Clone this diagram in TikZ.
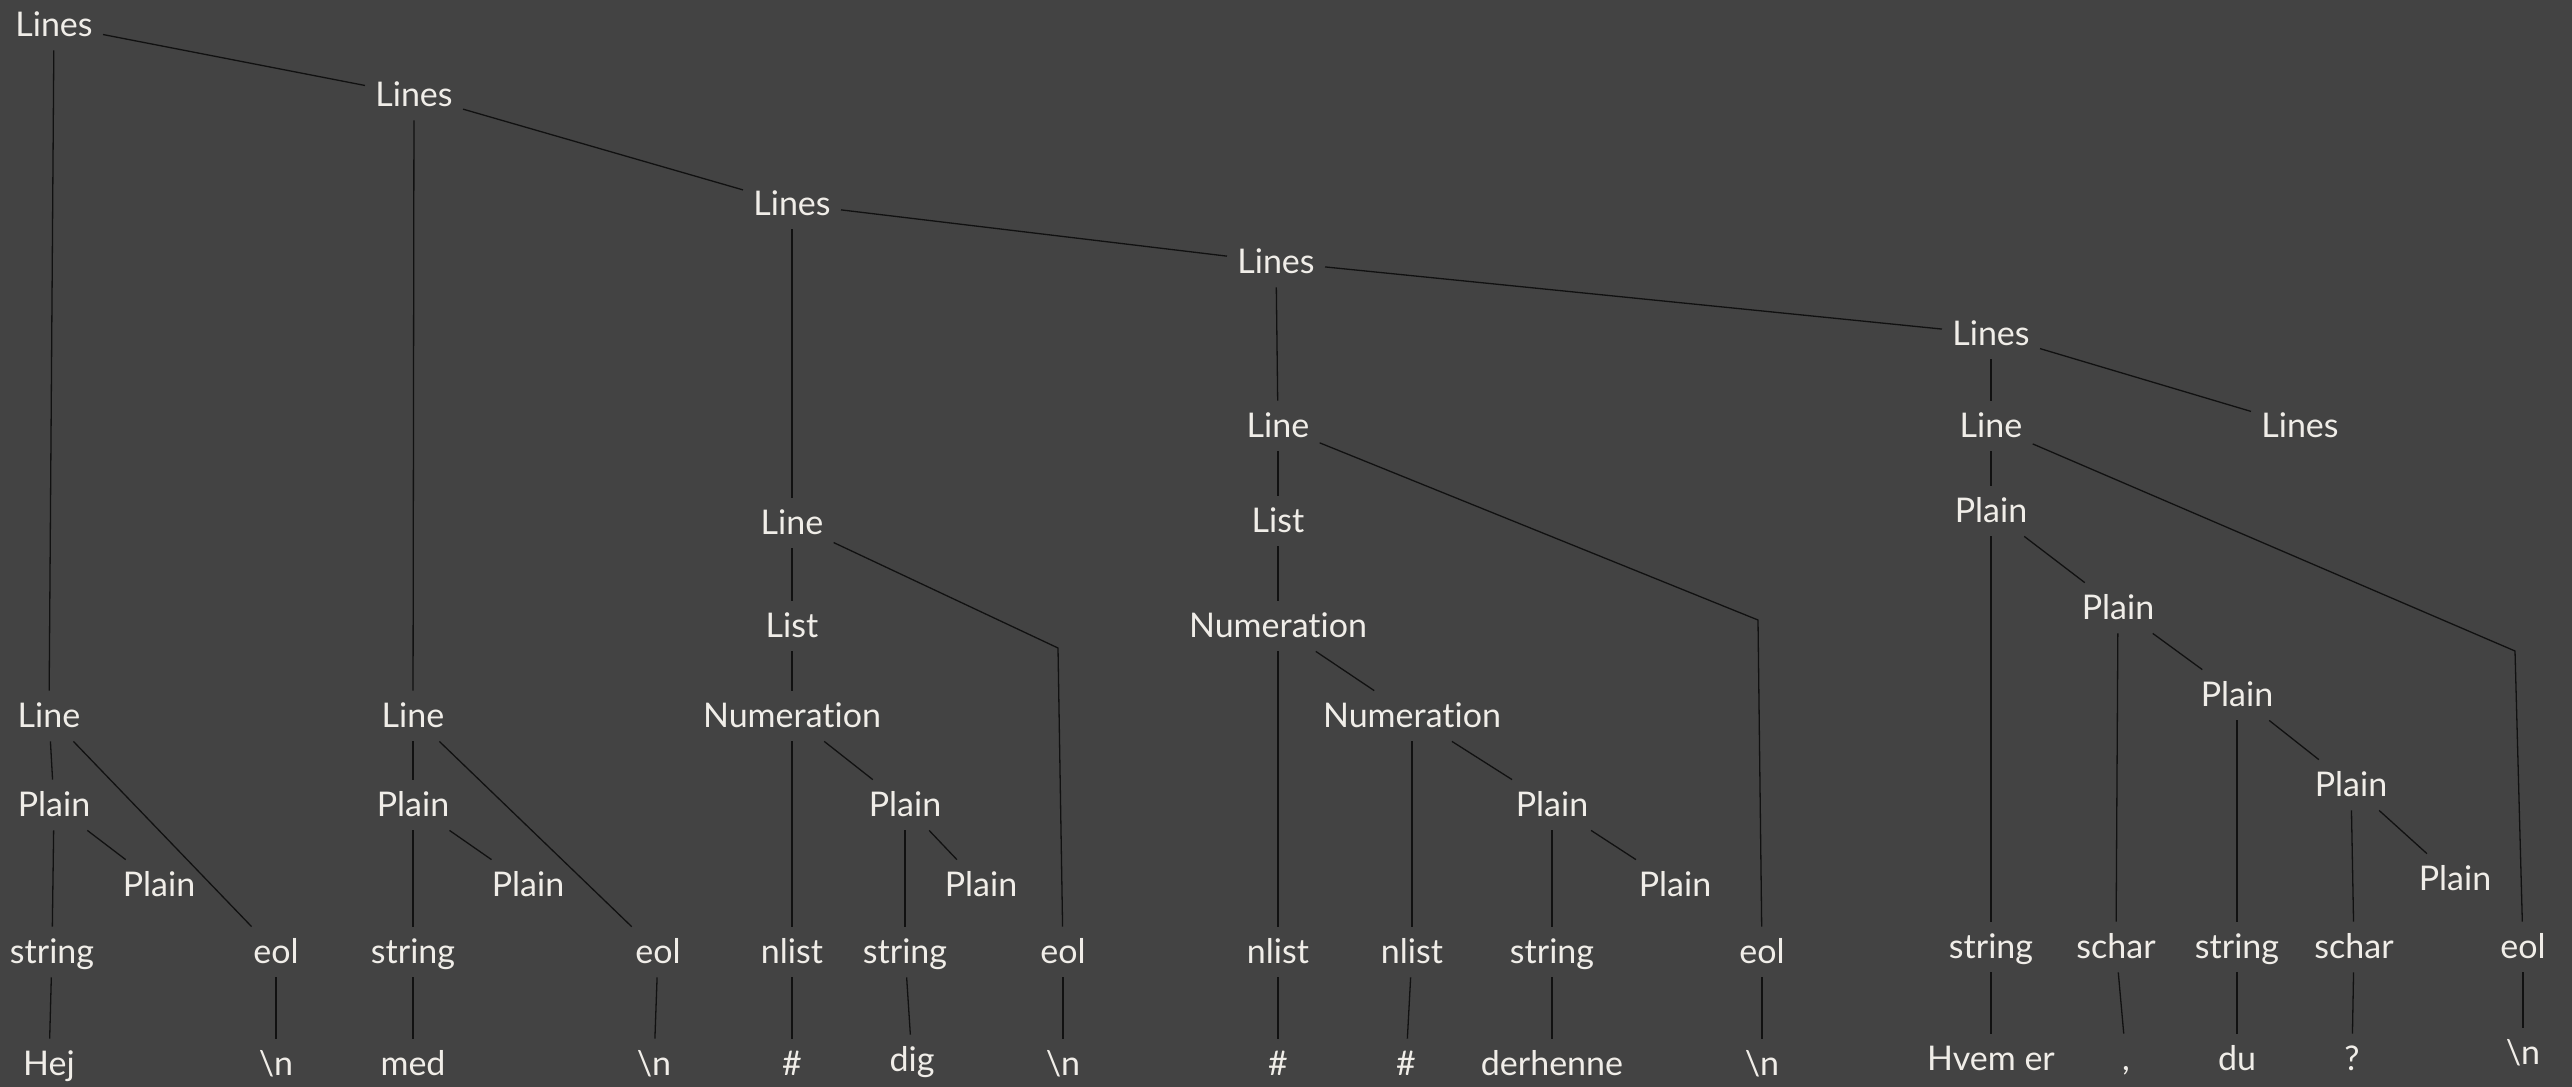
\documentclass[tikz,border=0pt]{standalone}
\usepackage{fontspec}
\setmainfont{Lato}[Ligatures=CommonOff]
\definecolor{bg}{HTML}{434343}
\definecolor{fg}{HTML}{F0EDE8}
\definecolor{edge}{HTML}{111111}
\begin{document}
\begin{tikzpicture}[x=0.5pt,y=-0.5pt,
  tn/.style={text=fg, font=\fontsize{17}{20}\selectfont, text height=13pt, text depth=2pt, inner xsep=5pt, inner ysep=5pt},
  ed/.style={draw=edge, line width=0.65pt}]
\useasboundingbox[fill=bg] (0,0) rectangle (2572,1087);
% top chain
\node[tn] (L1) at (54,25) {Lines};
\node[tn] (L2) at (414,95) {Lines};
\node[tn] (L3) at (792,204) {Lines};
\node[tn] (L4) at (1276,262) {Lines};
\node[tn] (L5) at (1991,334) {Lines};
\node[tn] (L6) at (2300,426) {Lines};
% subtree 1
\node[tn] (d1) at (49,716) {Line};
\node[tn] (d2) at (54,805) {Plain};
\node[tn] (d3) at (159,885) {Plain};
\node[tn] (d4) at (52,952) {string};
\node[tn] (d5) at (276,952) {eol};
\node[tn] (d6) at (49,1064) {Hej};
\node[tn] (d7) at (276,1064) {\textbackslash n};
% subtree 2
\node[tn] (e1) at (413,716) {Line};
\node[tn] (e2) at (413,805) {Plain};
\node[tn] (e3) at (528,885) {Plain};
\node[tn] (e4) at (413,952) {string};
\node[tn] (e5) at (658,952) {eol};
\node[tn] (e6) at (413,1064) {med};
\node[tn] (e7) at (654,1064) {\textbackslash n};
% subtree 3
\node[tn] (c1) at (792,523) {Line};
\node[tn] (c2) at (792,626) {List};
\node[tn] (c3) at (792,716) {Numeration};
\node[tn] (c4) at (905,805) {Plain};
\node[tn] (c5) at (981,885) {Plain};
\node[tn] (c6) at (792,952) {nlist};
\node[tn] (c7) at (905,952) {string};
\node[tn] (c8) at (1063,952) {eol};
\node[tn] (c9) at (792,1064) {\#};
\node[tn] (c10) at (912,1060) {dig};
\node[tn] (c11) at (1063,1064) {\textbackslash n};
\coordinate (cb) at (1058,648);
% subtree 4
\node[tn] (a1) at (1278,426) {Line};
\node[tn] (a2) at (1278,521) {List};
\node[tn] (a3) at (1278,626) {Numeration};
\node[tn] (a4) at (1412,716) {Numeration};
\node[tn] (a5) at (1552,805) {Plain};
\node[tn] (a6) at (1675,885) {Plain};
\node[tn] (a7) at (1278,952) {nlist};
\node[tn] (a8) at (1412,952) {nlist};
\node[tn] (a9) at (1552,952) {string};
\node[tn] (a10) at (1762,952) {eol};
\node[tn] (a11) at (1278,1064) {\#};
\node[tn] (a12) at (1406,1064) {\#};
\node[tn] (a13) at (1552,1064) {derhenne};
\node[tn] (a14) at (1762,1064) {\textbackslash n};
\coordinate (ab) at (1758,620);
% subtree 5
\node[tn] (b1) at (1991,426) {Line};
\node[tn] (b2) at (1991,511) {Plain};
\node[tn] (b3) at (2118,608) {Plain};
\node[tn] (b4) at (2237,695) {Plain};
\node[tn] (b5) at (2351,785) {Plain};
\node[tn] (b6) at (2455,879) {Plain};
\node[tn] (b7) at (1991,947) {string};
\node[tn] (b8) at (2116,947) {schar};
\node[tn] (b9) at (2237,947) {string};
\node[tn] (b10) at (2354,947) {schar};
\node[tn] (b11) at (2523,947) {eol};
\node[tn] (b12) at (1991,1059) {Hvem er};
\node[tn] (b13) at (2126,1059) {,};
\node[tn] (b14) at (2237,1059) {du};
\node[tn] (b15) at (2352,1059) {?};
\node[tn] (b16) at (2523,1053) {\textbackslash n};
\coordinate (bb) at (2515,651);
% edges
\draw[ed] (L1) -- (L2);
\draw[ed] (L2) -- (L3);
\draw[ed] (L3) -- (L4);
\draw[ed] (L4) -- (L5);
\draw[ed] (L5) -- (L6);
\draw[ed] (L1) -- (d1);
\draw[ed] (d1) -- (d2);
\draw[ed] (d2) -- (d3);
\draw[ed] (d2) -- (d4);
\draw[ed] (d1) -- (d5);
\draw[ed] (d4) -- (d6);
\draw[ed] (d5) -- (d7);
\draw[ed] (L2) -- (e1);
\draw[ed] (e1) -- (e2);
\draw[ed] (e2) -- (e3);
\draw[ed] (e2) -- (e4);
\draw[ed] (e1) -- (e5);
\draw[ed] (e4) -- (e6);
\draw[ed] (e5) -- (e7);
\draw[ed] (L3) -- (c1);
\draw[ed] (c1) -- (c2);
\draw[ed] (c2) -- (c3);
\draw[ed] (c3) -- (c4);
\draw[ed] (c4) -- (c5);
\draw[ed] (c3) -- (c6);
\draw[ed] (c4) -- (c7);
\draw[ed] (c1) -- (cb) -- (c8);
\draw[ed] (c6) -- (c9);
\draw[ed] (c7) -- (c10);
\draw[ed] (c8) -- (c11);
\draw[ed] (L4) -- (a1);
\draw[ed] (a1) -- (a2);
\draw[ed] (a2) -- (a3);
\draw[ed] (a3) -- (a4);
\draw[ed] (a4) -- (a5);
\draw[ed] (a5) -- (a6);
\draw[ed] (a3) -- (a7);
\draw[ed] (a4) -- (a8);
\draw[ed] (a5) -- (a9);
\draw[ed] (a1) -- (ab) -- (a10);
\draw[ed] (a7) -- (a11);
\draw[ed] (a8) -- (a12);
\draw[ed] (a9) -- (a13);
\draw[ed] (a10) -- (a14);
\draw[ed] (L5) -- (b1);
\draw[ed] (b1) -- (b2);
\draw[ed] (b2) -- (b3);
\draw[ed] (b3) -- (b4);
\draw[ed] (b4) -- (b5);
\draw[ed] (b5) -- (b6);
\draw[ed] (b2) -- (b7);
\draw[ed] (b3) -- (b8);
\draw[ed] (b4) -- (b9);
\draw[ed] (b5) -- (b10);
\draw[ed] (b1) -- (bb) -- (b11);
\draw[ed] (b7) -- (b12);
\draw[ed] (b8) -- (b13);
\draw[ed] (b9) -- (b14);
\draw[ed] (b10) -- (b15);
\draw[ed] (b11) -- (b16);
\end{tikzpicture}
\end{document}
